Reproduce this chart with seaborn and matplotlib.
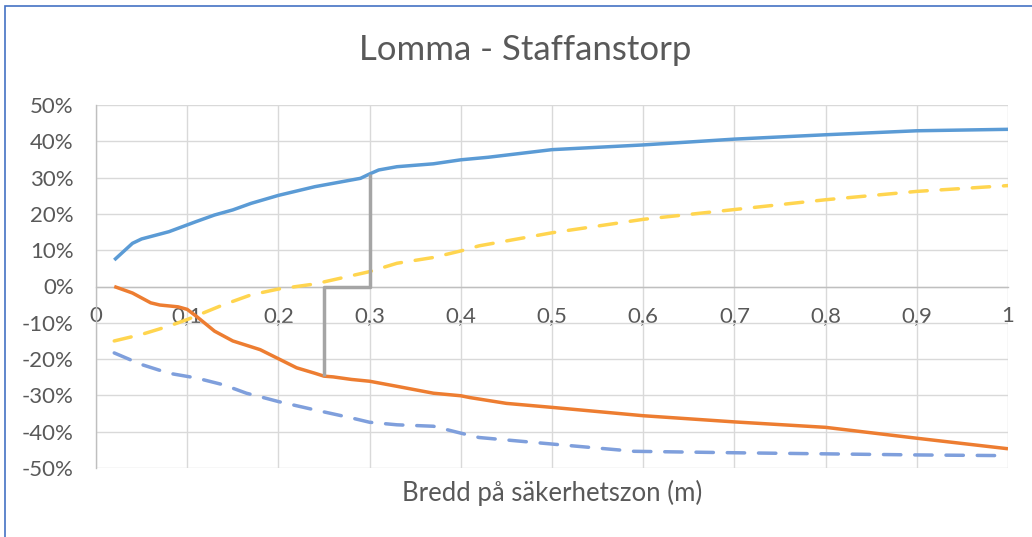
import matplotlib
matplotlib.use("Agg")
import matplotlib.pyplot as plt
import seaborn as sns
import pandas as pd
from matplotlib.patches import Rectangle

# ---- data (percent) ----
x_blue = [0.02, 0.04, 0.05, 0.08, 0.11, 0.13, 0.15, 0.17, 0.20, 0.24, 0.29, 0.30, 0.31,
          0.33, 0.37, 0.40, 0.43, 0.50, 0.60, 0.70, 0.80, 0.90, 1.00]
y_blue = [7.3, 11.9, 13.1, 15.1, 17.9, 19.7, 21.1, 22.9, 25.1, 27.5, 29.8, 31.0, 32.1,
          33.0, 33.8, 34.9, 35.6, 37.7, 39.0, 40.6, 41.8, 42.9, 43.3]

x_orange = [0.02, 0.04, 0.06, 0.07, 0.09, 0.10, 0.11, 0.13, 0.15, 0.18, 0.20, 0.22, 0.24,
            0.25, 0.26, 0.28, 0.30, 0.33, 0.37, 0.40, 0.41, 0.45, 0.50, 0.60, 0.70, 0.80,
            0.90, 1.00]
y_orange = [0.0, -1.8, -4.5, -5.1, -5.6, -6.3, -8.2, -12.3, -15.0, -17.4, -19.9, -22.4, -23.9,
            -24.7, -24.9, -25.6, -26.1, -27.5, -29.4, -30.1, -30.6, -32.2, -33.3, -35.6, -37.3,
            -38.8, -41.8, -44.7]

x_yellow = [0.02, 0.05, 0.08, 0.10, 0.14, 0.17, 0.20, 0.24, 0.30, 0.33, 0.37, 0.40, 0.42,
            0.50, 0.60, 0.70, 0.80, 0.90, 1.00]
y_yellow = [-15.0, -13.2, -10.9, -9.1, -5.0, -2.3, -0.7, 0.7, 4.1, 6.4, 8.0, 9.8, 11.2,
            14.8, 18.5, 21.2, 23.9, 26.2, 27.8]

x_bluedash = [0.02, 0.05, 0.08, 0.11, 0.14, 0.165, 0.185, 0.20, 0.24, 0.28, 0.30, 0.33, 0.37,
              0.40, 0.42, 0.50, 0.59, 0.70, 0.80, 0.90, 1.00]
y_bluedash = [-18.3, -21.5, -23.9, -25.2, -27.1, -29.4, -30.7, -31.7, -34.0, -36.2, -37.4,
              -38.1, -38.5, -40.4, -41.6, -43.4, -45.4, -45.8, -46.1, -46.4, -46.6]

x_gray = [0.25, 0.25, 0.30, 0.30]
y_gray = [-24.6, 0.0, 0.0, 31.0]

x_ticks = [0, 0.1, 0.2, 0.3, 0.4, 0.5, 0.6, 0.7, 0.8, 0.9, 1.0]
x_ticklabels = ["0", "0,1", "0,2", "0,3", "0,4", "0,5", "0,6", "0,7", "0,8", "0,9", "1"]
y_ticks = [-50, -40, -30, -20, -10, 0, 10, 20, 30, 40, 50]
y_ticklabels = [f"{v}%" for v in y_ticks]

title = "Lomma - Staffanstorp"
xlabel = "Bredd på säkerhetszon (m)"

# ---- styling ----
sns.set_theme(style="white")
plt.rcParams["font.family"] = ["Lato", "DejaVu Sans"]
TXT = "#595959"

fig = plt.figure(figsize=(10.32, 5.37), dpi=100)
ax = fig.add_axes([96 / 1032, 1 - 468 / 537, 912 / 1032, 363 / 537])

lw = 2.5
common = dict(ax=ax, lw=lw, sort=False, estimator=None)
sns.lineplot(x=x_blue, y=y_blue, color="#5B9BD5", **common)
sns.lineplot(x=x_orange, y=y_orange, color="#ED7D31", **common)
sns.lineplot(x=x_yellow, y=y_yellow, color="#FFD54F", linestyle=(0, (5.0, 4.0)), **common)
sns.lineplot(x=x_bluedash, y=y_bluedash, color="#7F9FDC", linestyle=(0, (5.0, 4.0)), **common)
sns.lineplot(x=x_gray, y=y_gray, color="#A5A5A5", **common)
for ln in ax.lines:
    ln.set_dash_capstyle("round")
    ln.set_solid_capstyle("butt")
    ln.set_solid_joinstyle("round")

ax.set_xlim(0, 1)
ax.set_ylim(-50, 50)
ax.set_xticks(x_ticks)
ax.set_xticklabels(x_ticklabels)
ax.set_yticks(y_ticks)
ax.set_yticklabels(y_ticklabels)
ax.grid(True, color="#D9D9D9", lw=1.0)
ax.set_axisbelow(True)

for s in ["top", "right"]:
    ax.spines[s].set_visible(False)
ax.spines["left"].set_color("#BFBFBF")
ax.spines["left"].set_linewidth(1.0)
ax.spines["bottom"].set_position(("data", 0))
ax.spines["bottom"].set_color("#BFBFBF")
ax.spines["bottom"].set_linewidth(1.0)
ax.spines["bottom"].set_zorder(0.6)

ax.tick_params(axis="x", length=0, pad=14, labelsize=16, labelcolor=TXT)
ax.tick_params(axis="y", length=0, pad=16, labelsize=16, labelcolor=TXT)
for lab in ax.get_yticklabels():
    lab.set_horizontalalignment("right")

ax.set_xlabel("")
ax.set_ylabel("")
fig.text(552 / 1032, 1 - 493 / 537, xlabel, ha="center", va="center",
         fontsize=18.5, color=TXT)
fig.text(525 / 1032, 1 - 50 / 537, title, ha="center", va="center",
         fontsize=25, color=TXT)

fig.patches.append(Rectangle((5 / 1032, -0.1), 1.2, 1 - 6 / 537 + 0.1,
                             transform=fig.transFigure, fill=False,
                             edgecolor="#4472C4", lw=1.2, zorder=10))

fig.savefig("out.png", dpi=100)
